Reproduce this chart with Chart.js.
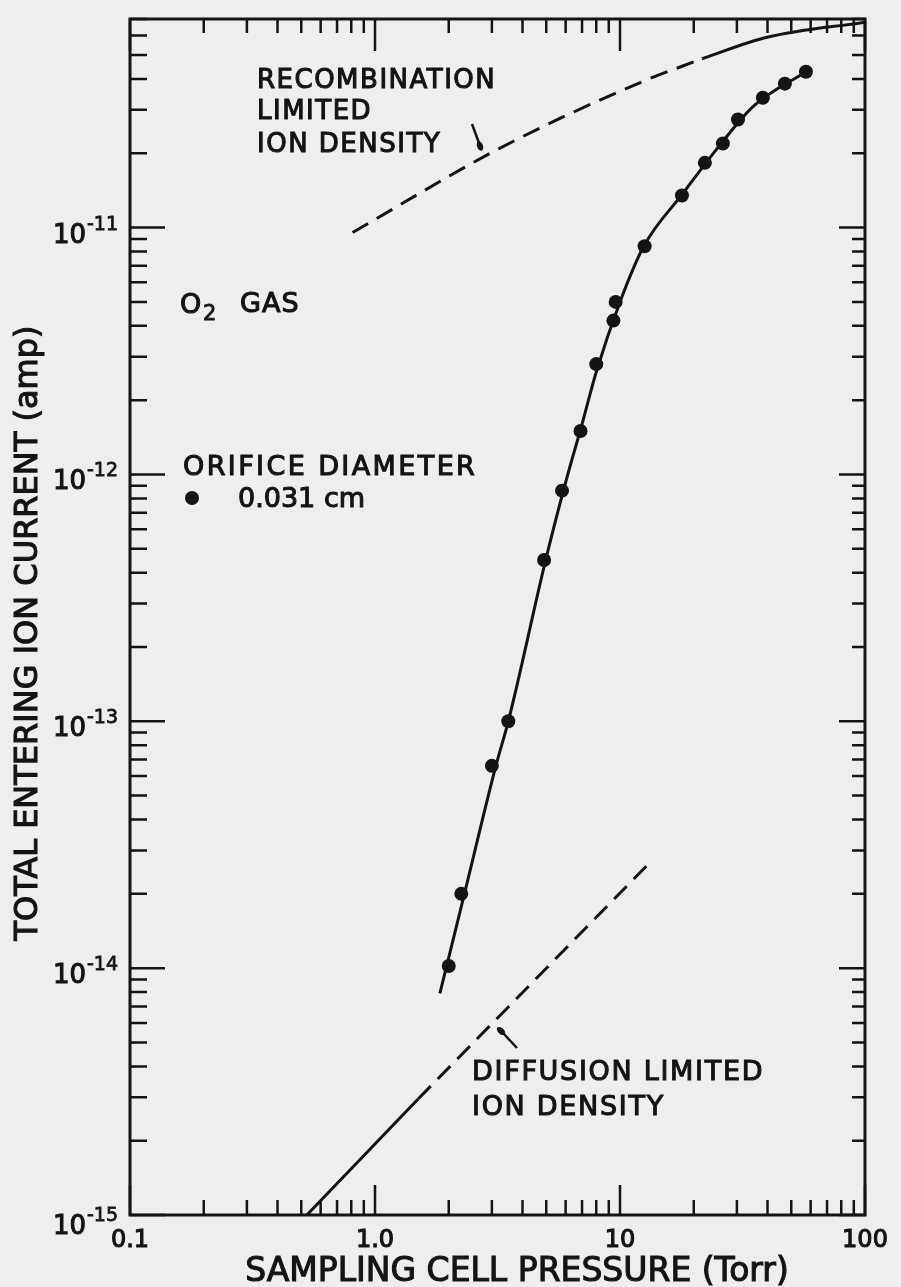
<!DOCTYPE html>
<html>
<head>
<meta charset="utf-8">
<script src="https://cdn.jsdelivr.net/npm/chart.js@4/dist/chart.umd.min.js"></script>
<style>
    html, body { margin: 0; padding: 0; background: #eeeeec; }
    #wrap { width: 901px; height: 1287px; }
</style>
</head>
<body>
<div id="wrap"><canvas id="chart" width="901" height="1287"></canvas></div>
<script>
// measured points, orifice 0.031 cm
const pressure = [2.0, 2.25, 3.0, 3.5, 4.9, 5.8, 6.9, 8.0, 9.4, 9.6, 12.6, 17.9, 22.2, 26.3, 30.3, 38.3, 47.1, 57.4];
const current = [1.02e-14, 2.0e-14, 6.6e-14, 1.0e-13, 4.5e-13, 8.6e-13, 1.5e-12, 2.8e-12, 4.2e-12, 5.0e-12, 8.4e-12, 1.35e-11, 1.83e-11, 2.19e-11, 2.74e-11, 3.36e-11, 3.83e-11, 4.28e-11];

// smooth curve drawn through the points
const fitPressure = [1.84, 2.32, 3.12, 3.5, 5.0, 6.0, 7.0, 8.0, 10, 12.5, 18, 25, 35, 57.4];
const fitCurrent = [7.9e-15, 2.01e-14, 6.64e-14, 1.0e-13, 4.6e-13, 9.3e-13, 1.6e-12, 2.6e-12, 5.0e-12, 8.4e-12, 1.37e-11, 2.1e-11, 3.1e-11, 4.28e-11];

// recombination limited ion density
const recDashPressure = [0.81, 3.24, 12.1, 21.6];
const recDashCurrent = [9.55e-12, 2.1e-11, 3.87e-11, 4.83e-11];
const recSolidPressure = [21.6, 39.8, 100];
const recSolidCurrent = [4.83e-11, 5.9e-11, 6.8e-11];

// diffusion limited ion density
const difSolidPressure = [0.527, 1.5];
const difSolidCurrent = [1.0e-15, 2.95e-15];
const difDashPressure = [1.5, 13.3];
const difDashCurrent = [2.95e-15, 2.69e-14];

const xDecades = [0.1, 1, 10, 100];
const xTickLabels = ['0.1', '1.0', '10', '100'];
const yDecades = [1e-15, 1e-14, 1e-13, 1e-12, 1e-11];
const yTickExponents = ['-15', '-14', '-13', '-12', '-11'];

const INK = '#141414';
const FONT = '"DejaVu Sans", sans-serif';

function toPoints(xs, ys) {
    return xs.map((v, i) => ({ x: v, y: ys[i] }));
}

function lineSet(xs, ys, dash) {
    return {
        data: toPoints(xs, ys),
        showLine: true,
        borderColor: INK,
        borderWidth: 3,
        borderDash: dash || [],
        pointRadius: 0,
        cubicInterpolationMode: 'monotone',
        fill: false
    };
}

// lettering on the original is heavy, so fill and stroke a little
function text(ctx, str, x, y, size, spacing) {
    ctx.font = size + 'px ' + FONT;
    ctx.letterSpacing = (spacing || 0) + 'px';
    ctx.lineWidth = size > 22 ? 1.1 : 0.8;
    ctx.fillText(str, x, y);
    ctx.strokeText(str, x, y);
}

const paperPlugin = {
    id: 'paper',
    beforeDraw(chart) {
        const ctx = chart.ctx;
        ctx.save();
        ctx.fillStyle = '#eeeeec';
        ctx.fillRect(0, 0, chart.width, chart.height);
        ctx.restore();
    }
};

const framePlugin = {
    id: 'frame',
    afterDraw(chart) {
        const ctx = chart.ctx;
        const a = chart.chartArea;
        const xs = chart.scales.x;
        const ys = chart.scales.y;
        ctx.save();
        ctx.strokeStyle = INK;
        ctx.fillStyle = INK;
        ctx.lineWidth = 3;
        ctx.strokeRect(a.left, a.top, a.right - a.left, a.bottom - a.top);

        // inward ticks on all four sides
        ctx.lineWidth = 2.5;
        ctx.beginPath();
        xDecades.forEach((d) => {
            for (let m = 1; m <= 9; m++) {
                const v = d * m;
                if (v > xs.max * 1.0001) break;
                const px = xs.getPixelForValue(v);
                const big = m === 1;
                ctx.moveTo(px, a.bottom);
                ctx.lineTo(px, a.bottom - (big ? 30 : 15));
                ctx.moveTo(px, a.top);
                ctx.lineTo(px, a.top + (big ? 32 : 14));
            }
        });
        yDecades.forEach((d) => {
            for (let m = 1; m <= 9; m++) {
                const v = d * m;
                if (v > ys.max * 1.0001) break;
                const py = ys.getPixelForValue(v);
                const big = m === 1;
                ctx.moveTo(a.left, py);
                ctx.lineTo(a.left + (big ? 35 : 17), py);
                ctx.moveTo(a.right, py);
                ctx.lineTo(a.right - (big ? 26 : 13), py);
            }
        });
        ctx.stroke();

        // tick labels
        ctx.textAlign = 'center';
        ctx.textBaseline = 'alphabetic';
        xDecades.forEach((d, i) => {
            text(ctx, xTickLabels[i], xs.getPixelForValue(d), a.bottom + 32, 24, 0);
        });
        yDecades.forEach((d, i) => {
            const py = ys.getPixelForValue(d);
            const low = i === 0 ? 4 : 0;
            ctx.textAlign = 'right';
            text(ctx, '10', 86, py + 15 + low, 26, 0);
            ctx.textAlign = 'left';
            text(ctx, yTickExponents[i], 87, py + 2 + low, 19, 0);
        });

        // axis titles
        ctx.textAlign = 'center';
        text(ctx, 'SAMPLING CELL PRESSURE (Torr)', 517, a.bottom + 66, 33, 0);
        ctx.save();
        ctx.translate(37, 633);
        ctx.rotate(-Math.PI / 2);
        text(ctx, 'TOTAL ENTERING ION CURRENT (amp)', 0, 0, 32, 0);
        ctx.restore();

        // annotations
        ctx.textAlign = 'left';
        text(ctx, 'RECOMBINATION', 257, 88, 26, 1.5);
        text(ctx, 'LIMITED', 257, 119, 26, 1.5);
        text(ctx, 'ION DENSITY', 257, 152, 26, 1.5);

        text(ctx, 'O', 180, 313, 27, 0);
        text(ctx, '2', 203, 320, 21, 0);
        text(ctx, 'GAS', 240, 312, 27, 1);

        text(ctx, 'ORIFICE DIAMETER', 183, 475, 27, 2.4);
        ctx.beginPath();
        ctx.arc(192, 498, 7, 0, Math.PI * 2);
        ctx.fill();
        text(ctx, '0.031 cm', 238, 507, 27, 0);

        text(ctx, 'DIFFUSION LIMITED', 472, 1080, 27, 1.7);
        text(ctx, 'ION DENSITY', 472, 1115, 27, 1.7);

        // little pointer arrows
        ctx.lineWidth = 2.5;
        ctx.beginPath();
        ctx.moveTo(472, 124);
        ctx.lineTo(479, 143);
        ctx.moveTo(517, 1048);
        ctx.lineTo(503, 1033);
        ctx.stroke();
        ctx.beginPath();
        ctx.ellipse(480, 146, 3, 5, -0.35, 0, Math.PI * 2);
        ctx.fill();
        ctx.beginPath();
        ctx.ellipse(501, 1031, 3, 5, -0.8, 0, Math.PI * 2);
        ctx.fill();
        ctx.restore();
    }
};

new Chart(document.getElementById('chart'), {
    type: 'scatter',
    data: {
        datasets: [
            {
                data: toPoints(pressure, current),
                pointRadius: 7,
                pointBackgroundColor: INK,
                pointBorderWidth: 0,
                showLine: false
            },
            lineSet(fitPressure, fitCurrent),
            lineSet(recDashPressure, recDashCurrent, [18, 10]),
            lineSet(recSolidPressure, recSolidCurrent),
            lineSet(difDashPressure, difDashCurrent, [18, 10]),
            lineSet(difSolidPressure, difSolidCurrent)
        ]
    },
    options: {
        responsive: false,
        animation: false,
        layout: { padding: { left: 130, right: 36, top: 19, bottom: 72 } },
        plugins: {
            legend: { display: false },
            tooltip: { enabled: false }
        },
        scales: {
            x: { type: 'logarithmic', min: 0.1, max: 100, display: false },
            y: { type: 'logarithmic', min: 1e-15, max: 7e-11, display: false }
        }
    },
    plugins: [paperPlugin, framePlugin]
});
</script>
</body>
</html>
